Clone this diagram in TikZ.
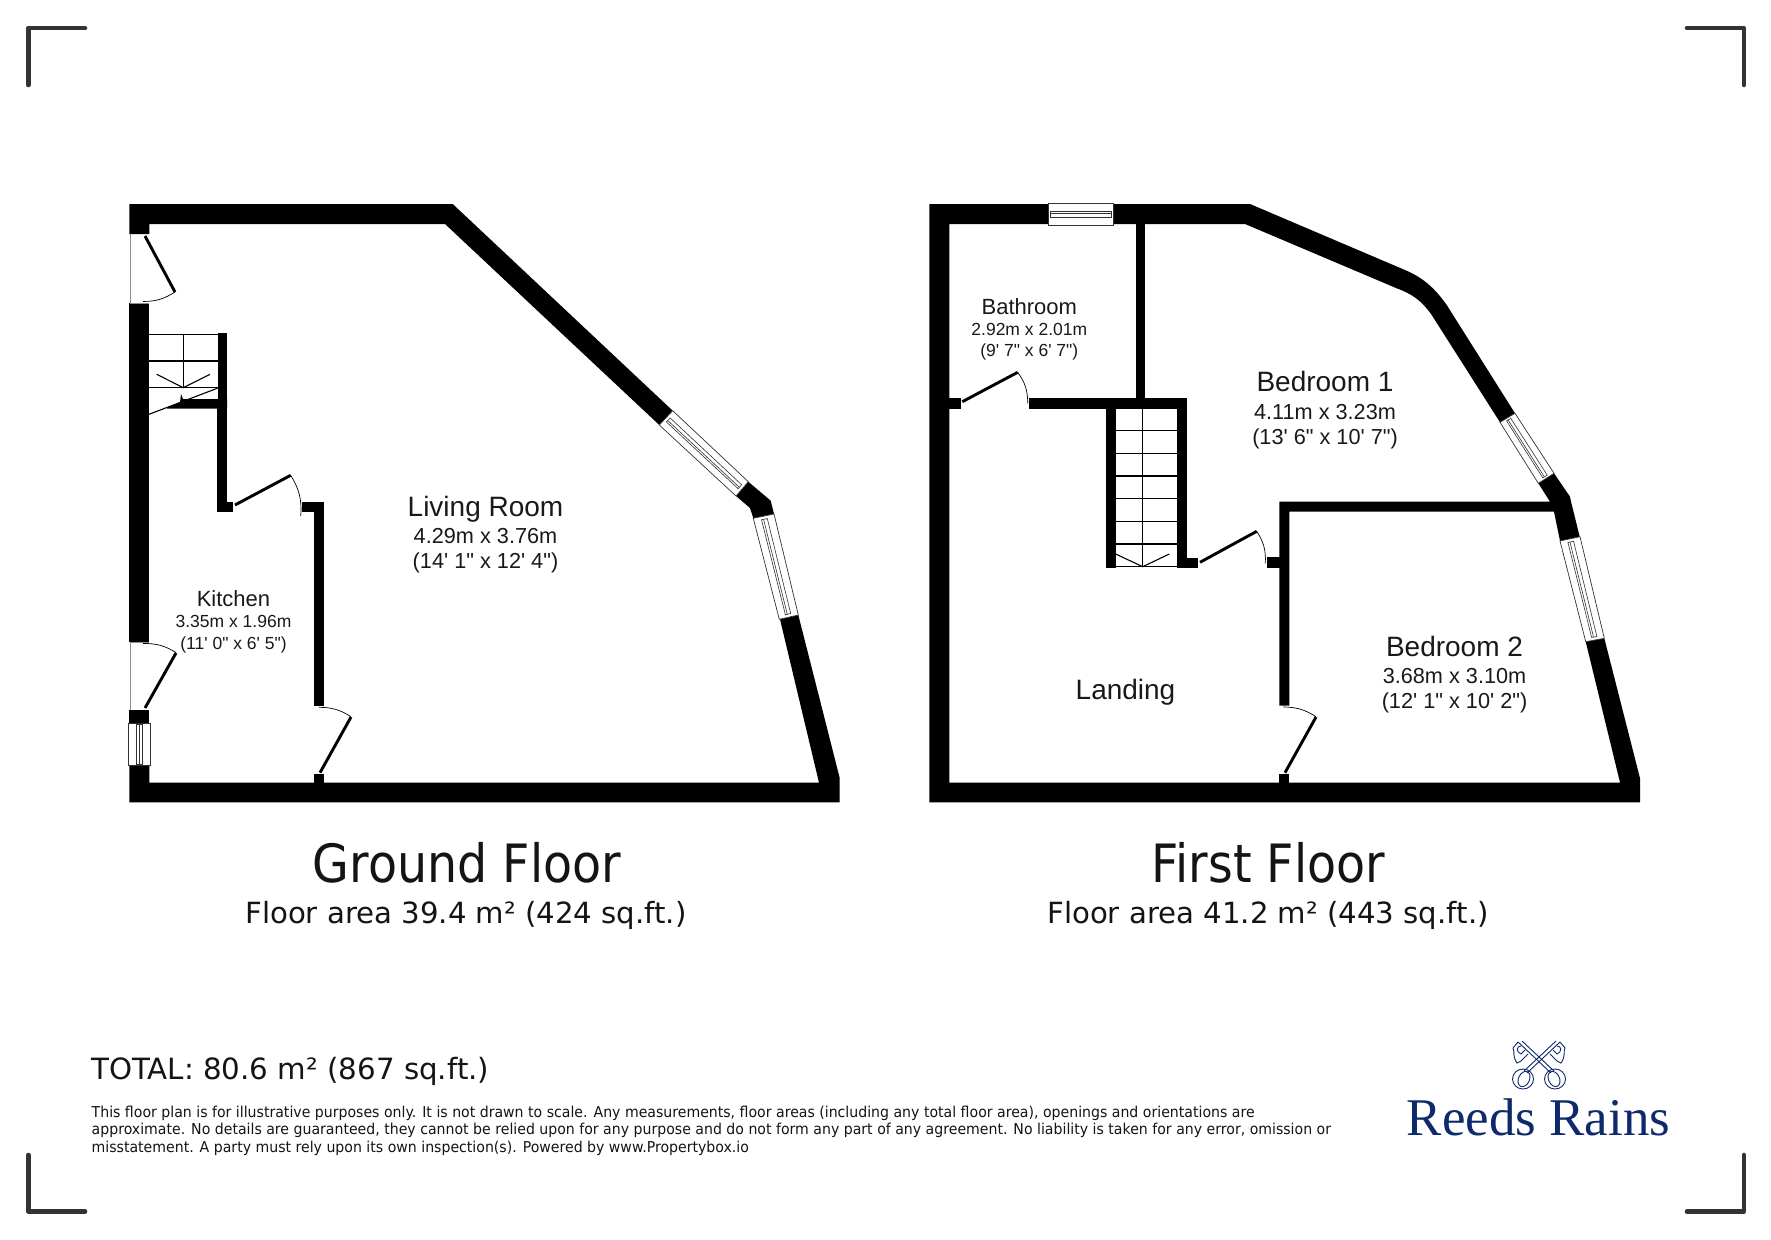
\documentclass[tikz,border=0pt]{standalone}
\usepackage{fontspec}
\usetikzlibrary{calc}
\setmainfont{Liberation Sans}[Ligatures=TeXOff]
\newfontfamily\tah[FakeStretch=0.9]{DejaVu Sans}
\newfontfamily\tahm[FakeStretch=0.94]{DejaVu Sans}
\newfontfamily\tahw{DejaVu Sans}
\newfontfamily\logofont{Liberation Serif}
\definecolor{navy}{HTML}{0F2A6B}
\newcommand{\fsz}[1]{\fontsize{#1}{#1}\selectfont}
% four corners of a window: A,B one short end; C,D the other
\newcommand{\winq}[4]{%
  \draw[winframe] #1 -- #2 -- #3 -- #4 -- cycle;
  \path #1 coordinate (wa) #2 coordinate (wb) #3 coordinate (wc) #4 coordinate (wd);
  \path ($(wa)!.36!(wb)$) coordinate (p1) ($(wa)!.64!(wb)$) coordinate (p2)
        ($(wa)!.46!(wb)$) coordinate (p5) ($(wd)!.46!(wc)$) coordinate (p6)
        ($(wd)!.36!(wc)$) coordinate (p4) ($(wd)!.64!(wc)$) coordinate (p3);
  \draw[winline] ($(p1)!.03!(p4)$) -- ($(p1)!.97!(p4)$) -- ($(p2)!.97!(p3)$) -- ($(p2)!.03!(p3)$) -- cycle;
  \draw[winline] ($(p5)!.03!(p6)$) -- ($(p5)!.97!(p6)$);
}
\tikzset{
  wall/.style={fill=black,draw=none},
  winframe/.style={draw=black!80,line width=.7pt,fill=white},
  winline/.style={draw=black!80,line width=.6pt},
  leaf/.style={draw=black,line width=2.9pt},
  swing/.style={draw=black,line width=.7pt},
  tread/.style={draw=black,line width=1.1pt},
  jamb/.style={draw=black!45,line width=.6pt},
  corner/.style={draw=black!80,line width=4.6pt,line cap=round,line join=round},
  rname/.style={inner sep=0pt,anchor=base,text=black!90},
  tx/.style={inner sep=0pt,anchor=base,text=black!92,font=\tah},
  keyline/.style={draw=navy,line width=.9pt},
}
\begin{document}
\begin{tikzpicture}[x=1pt,y=-1pt]
\useasboundingbox (0,0) rectangle (1771,1239);
\fill[white] (0,0) rectangle (1771,1239);
% corner marks
\draw[corner] (28.2,85) -- (28.2,28.2) -- (85,28.2);
\draw[corner] (1687,28.2) -- (1743.8,28.2) -- (1743.8,85);
\draw[corner] (28.2,1155) -- (28.2,1211.5) -- (85,1211.5);
\draw[corner] (1687,1211.5) -- (1743.8,1211.5) -- (1743.8,1155);

% ===== Ground floor walls
\fill[wall] (129.3,204) -- (452.7,204) -- (672.7,410.7) -- (659.3,425) -- (445,224) -- (149.3,224) -- (149.3,234) -- (129.3,234) -- cycle;
\fill[wall] (129.3,303) rectangle (149.3,642.3);
\fill[wall] (129.3,710) rectangle (149.3,723.3);
\fill[wall] (129.3,765.3) -- (149.3,765.3) -- (149.3,782.7) -- (819,782.7) -- (780,619.3) -- (798.3,615) -- (839.7,778) -- (839.7,802.3) -- (129.3,802.3) -- cycle;
\fill[wall] (748.3,481.7) -- (770.7,500.7) -- (774,514) -- (753.3,518.3) -- (750,508) -- (736,496) -- cycle;
% jambs of external doors
\draw[jamb] (130.3,234) -- (130.3,303) -- (149,303);
\draw[jamb] (130.3,642.3) -- (130.3,710);
\draw[jamb] (130.3,642.3) -- (149,642.3);
% windows
\winq{(659.3,425)}{(672.7,410.7)}{(748.3,481.7)}{(736,496)}
\winq{(753.3,518.3)}{(774,514)}{(798.3,615)}{(779.3,619.3)}
\winq{(128.7,723.3)}{(150.7,723.3)}{(150.7,765.3)}{(128.7,765.3)}
% stairs + inner walls
\fill[wall] (218,333) rectangle (227,512);
\fill[wall] (217,399) rectangle (227,512);
\fill[wall] (217,501.7) rectangle (233.3,511.7);
\fill[wall] (167,407.5) -- (180,402.5) -- (181,394) -- (183,399) -- (227,399) -- (227,408.7) -- (167,408.7) -- cycle;
\draw[line width=1.1pt] (149,414.3) -- (217.5,388.2);
\draw[tread] (149,334.5) -- (218,334.5) (149,361) -- (218,361) (149,387.7) -- (218,387.7) (183.3,334.5) -- (183.3,387.7);
\draw[tread] (156.7,374.3) -- (183.3,387.7) -- (210,374.3);
\fill[wall] (302.3,501.7) rectangle (324.3,511.7);
\fill[wall] (314,501.7) rectangle (324.3,705.7);
\fill[wall] (314,774.3) rectangle (324.3,783);
% doors
\draw[leaf] (145,236) -- (175,292);
\draw[swing] (175,292) to[bend left=16] (143,301.5);
\draw[leaf] (176,653) -- (145,708);
\draw[swing] (143,643.5) to[bend left=16] (176,652.5);
\draw[leaf] (235,505) -- (290.7,475.3);
\draw[swing] (290.7,475.3) to[bend left=18] (300.7,516);
\draw[leaf] (351,717) -- (320,772.7);
\draw[swing] (319,707.3) to[bend left=16] (351,716.7);

% ===== First floor walls
\fill[wall] (929.3,204) -- (1048.7,204) -- (1048.7,224) -- (949.3,224) -- (949.3,782.5) -- (1620,782.5) -- (1585.7,641.7) -- (1604.3,638.3) -- (1640,778.3) -- (1640,802.3) -- (929.3,802.3) -- cycle;
\fill[wall] (1113,204) -- (1250,204)
  -- (1403.3,269.3) .. controls (1422,277) and (1434,287) .. (1446.7,305)
  -- (1515,413.3) -- (1500,422.3)
  -- (1431.7,315) .. controls (1421,300) and (1412,294) .. (1396.7,288.3)
  -- (1245,224) -- (1113,224) -- cycle;
\fill[wall] (1554,473.3) -- (1570,496.7) -- (1571,501.7) -- (1579.7,536.7) -- (1560,541) -- (1554,511.7) -- (1289.3,511.7) -- (1289.3,705.7) -- (1279.3,705.7) -- (1279.3,501.7) -- (1550,501.7) -- (1538.3,483.3) -- cycle;
\fill[wall] (1135.7,224) rectangle (1145.3,400);
\fill[wall] (949.3,398.3) rectangle (960.7,408.7);
\fill[wall] (1029,398.3) rectangle (1187.3,408.7);
\fill[wall] (1106,400) rectangle (1115.7,568);
\fill[wall] (1177,400) rectangle (1187.3,568);
\fill[wall] (1177,557.7) rectangle (1198.3,568);
\fill[wall] (1266.7,557.3) rectangle (1280,568.3);
\fill[wall] (1279.3,774.3) rectangle (1289.3,783);
% windows
\winq{(1048.7,203.3)}{(1048.7,225)}{(1113,225)}{(1113,203.3)}
\winq{(1500,422.3)}{(1515,413.3)}{(1554,473.3)}{(1538.3,483.3)}
\winq{(1560,541)}{(1580,536.7)}{(1604.3,638.3)}{(1585.7,641.7)}
% stairs
\draw[tread] (1115.7,430.7) -- (1177,430.7) (1115.7,453.3) -- (1177,453.3) (1115.7,476) -- (1177,476)
  (1115.7,498.7) -- (1177,498.7) (1115.7,521.7) -- (1177,521.7) (1115.7,544) -- (1177,544) (1115.7,566.7) -- (1177,566.7)
  (1142.7,409) -- (1142.7,566.7);
\draw[tread] (1115.7,554) -- (1142.7,566.7) -- (1169.3,554);
% doors
\draw[leaf] (962.3,401.7) -- (1017.7,372.3);
\draw[swing] (1017.7,372.3) to[bend left=18] (1027.7,403.3);
\draw[leaf] (1200,562.3) -- (1256.7,531.3);
\draw[swing] (1256.7,531.3) to[bend left=18] (1265.3,563.3);
\draw[leaf] (1316,717) -- (1285,772.7);
\draw[swing] (1283.3,707) to[bend left=16] (1316,716.7);

% ===== Room labels
\node[rname,font=\fsz{28}] (lr) at (485.5,516) {Living Room};
\node[rname,font=\fsz{21.7}] (lr2) at (485.5,543.3) {4.29m x 3.76m};
\node[rname,font=\fsz{21.7}] (lr3) at (485.5,568.3) {(14' 1" x 12' 4")};
\node[rname,font=\fsz{22}] (k) at (233.5,606.7) {Kitchen};
\node[rname,font=\fsz{17.5}] (k2) at (233.5,627.7) {3.35m x 1.96m};
\node[rname,font=\fsz{17.5}] (k3) at (233.5,649) {(11' 0" x 6' 5")};
\node[rname,font=\fsz{22}] (b) at (1029.3,314.3) {Bathroom};
\node[rname,font=\fsz{17.5}] (b2) at (1029.3,335.7) {2.92m x 2.01m};
\node[rname,font=\fsz{17.5}] (b3) at (1029.3,356.7) {(9' 7" x 6' 7")};
\node[rname,font=\fsz{28}] (b1) at (1325,391.7) {Bedroom 1};
\node[rname,font=\fsz{21.7}] (b12) at (1325,419) {4.11m x 3.23m};
\node[rname,font=\fsz{21.7}] (b13) at (1325,444) {(13' 6" x 10' 7")};
\node[rname,font=\fsz{28}] (bb) at (1454.5,656.7) {Bedroom 2};
\node[rname,font=\fsz{21.7}] (bb2) at (1454.5,683.3) {3.68m x 3.10m};
\node[rname,font=\fsz{21.7}] (bb3) at (1454.5,708.3) {(12' 1" x 10' 2")};
\node[rname,font=\fsz{28}] (l) at (1125.5,699.5) {Landing};

% ===== Titles
\node[tx,font=\tah\fsz{52.8}] (gf) at (467,882) {Ground Floor};
\node[tx,font=\tahw\fsz{29.2}] (ga) at (466,923) {Floor area 39.4 m² (424 sq.ft.)};
\node[tx,font=\tah\fsz{52.8}] (ff) at (1268.5,882) {First Floor};
\node[tx,font=\tahw\fsz{29.2}] (fa) at (1268,923) {Floor area 41.2 m² (443 sq.ft.)};
\node[tx,anchor=base west,font=\tahw\fsz{29.3}] (tot) at (91,1079) {TOTAL: 80.6 m² (867 sq.ft.)};
\node[tx,anchor=base west,font=\tahm\fsz{15}] (d1) at (91.5,1117) {This floor plan is for illustrative purposes only. It is not drawn to scale. Any measurements, floor areas (including any total floor area), openings and orientations are};
\node[tx,anchor=base west,font=\tahm\fsz{15}] (d2) at (91.5,1134) {approximate. No details are guaranteed, they cannot be relied upon for any purpose and do not form any part of any agreement. No liability is taken for any error, omission or};
\node[tx,anchor=base west,font=\tahm\fsz{15}] (d3) at (91.5,1152) {misstatement. A party must rely upon its own inspection(s). Powered by www.Propertybox.io};

% ===== Logo
\node[inner sep=0pt,anchor=base,text=navy,font=\logofont\fsz{53}] (logo) at (1538.5,1135.7) {Reeds Rains};
\foreach \s in {1,-1}{
\begin{scope}[shift={(1539,0)},xscale=\s]
  \draw[keyline] (-21,1042) -- (12,1073) (-17,1041) -- (15,1071);
  \draw[keyline] (16,1079) ellipse[x radius=10.5,y radius=10];
  \draw[keyline] (15,1079) ellipse[x radius=5.5,y radius=8,rotate=25];
  \draw[keyline] (-21,1042) -- (-26,1048) .. controls (-24,1052) and (-27,1056) .. (-22,1063) -- (-18,1061) -- (-11,1054);
  \draw[keyline] (-18,1046) .. controls (-23,1046) and (-23,1052) .. (-18,1054) -- (-14,1050);
\end{scope}
}
\end{tikzpicture}
\end{document}
